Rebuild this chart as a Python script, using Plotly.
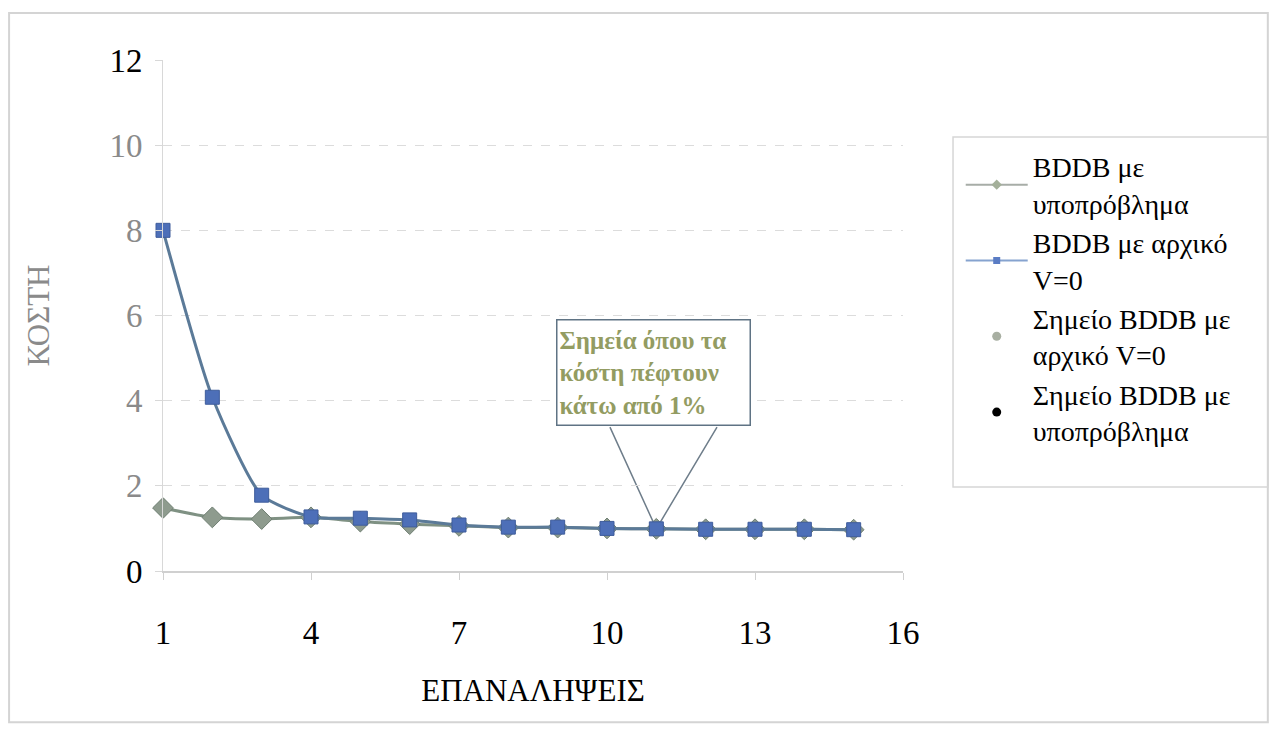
import plotly.graph_objects as go

# Iterations and costs per method
iterations = list(range(1, 16))
cost_subproblem = [1.48, 1.26, 1.22, 1.26, 1.16, 1.10, 1.06, 1.02, 1.02, 1.00, 0.99, 0.98, 0.98, 0.98, 0.97]
cost_v0 = [8.00, 4.08, 1.78, 1.27, 1.24, 1.20, 1.08, 1.03, 1.03, 1.00, 0.99, 0.98, 0.98, 0.98, 0.97]

# Iteration where costs drop below 1%
point_iteration = 11
point_v0 = [cost_v0[point_iteration - 1]]
point_subproblem = [cost_subproblem[point_iteration - 1]]

y_ticks = [0, 2, 4, 6, 8, 10, 12]
x_ticks = [1, 4, 7, 10, 13, 16]

names = ["BDDB με<br>υποπρόβλημα", "BDDB με αρχικό<br>V=0",
         "Σημείο BDDB με<br>αρχικό V=0", "Σημείο BDDB με<br>υποπρόβλημα"]

FONT = "Liberation Serif"

fig = go.Figure()

# Marker-only series first so the line markers sit on top of them
fig.add_trace(go.Scatter(
    x=[point_iteration], y=point_v0, mode="markers", showlegend=False,
    marker=dict(color="#a3ab9d", size=10, symbol="circle"), cliponaxis=False,
))
fig.add_trace(go.Scatter(
    x=[point_iteration], y=point_subproblem, mode="markers", showlegend=False,
    marker=dict(color="#000000", size=10, symbol="circle"), cliponaxis=False,
))
fig.add_trace(go.Scatter(
    x=iterations, y=cost_subproblem, mode="lines+markers", showlegend=False,
    line=dict(color="#7f9183", width=3, shape="spline", smoothing=0.6),
    marker=dict(symbol="diamond", size=16, color="#8e9b8e",
                line=dict(color="#6f7f72", width=1)),
    cliponaxis=False,
))
fig.add_trace(go.Scatter(
    x=iterations, y=cost_v0, mode="lines+markers", showlegend=False,
    line=dict(color="#5b7a98", width=3, shape="spline", smoothing=0.6),
    marker=dict(symbol="square", size=14, color="#4d6fb8",
                line=dict(color="#3f5d9c", width=1)),
    cliponaxis=False,
))

# Legend keys with small symbols
legend_styles = [
    dict(mode="lines+markers", line=dict(color="#a7ada7", width=2),
         marker=dict(symbol="diamond", size=8, color="#a4b09a")),
    dict(mode="lines+markers", line=dict(color="#86a3cf", width=2),
         marker=dict(symbol="square", size=7, color="#5a7cc4")),
    dict(mode="markers", marker=dict(symbol="circle", size=9, color="#a8afa2")),
    dict(mode="markers", marker=dict(symbol="circle", size=9, color="#000000")),
]
for rank, (name, style) in enumerate(zip(names, legend_styles), start=1):
    fig.add_trace(go.Scatter(x=[None], y=[None], name=name, legendrank=rank,
                             hoverinfo="skip", **style))

# Dashed grid lines on an overlay axis (no line at the top edge)
fig.add_trace(go.Scatter(x=[None], y=[None], yaxis="y2", showlegend=False, hoverinfo="skip"))

y_ticktext = []
for v in y_ticks:
    if v in (0, 12):
        y_ticktext.append(str(v))
    else:
        y_ticktext.append(f"<span style='color:#8a8a8a'>{v}</span>")

fig.update_layout(
    width=1280, height=730,
    margin=dict(l=163, r=377, t=60, b=159),
    paper_bgcolor="white", plot_bgcolor="white",
    font=dict(family=FONT, color="#000000"),
    showlegend=True,
    legend=dict(
        x=1.078, y=0.84, xanchor="left", yanchor="top",
        font=dict(family=FONT, size=28, color="#000000"),
        bgcolor="rgba(0,0,0,0)", borderwidth=0,
        itemwidth=62, traceorder="normal",
    ),
    xaxis=dict(
        range=[1, 16], tickvals=x_ticks, ticktext=[str(v) for v in x_ticks],
        showgrid=False, zeroline=False,
        showline=True, linecolor="#d0d0d0", linewidth=2,
        ticks="outside", ticklen=7, tickcolor="#d0d0d0", tickwidth=1,
        tickfont=dict(family=FONT, size=33, color="#000000"),
        ticklabelstandoff=24,
        title=dict(text="ΕΠΑΝΑΛΗΨΕΙΣ", font=dict(family=FONT, size=31, color="#000000"), standoff=30),
    ),
    yaxis=dict(
        range=[0, 12], tickvals=y_ticks, ticktext=y_ticktext,
        showgrid=False, zeroline=False,
        showline=True, linecolor="#d8d8d8", linewidth=1,
        ticks="outside", ticklen=7, tickcolor="#d8d8d8", tickwidth=1,
        tickfont=dict(family=FONT, size=33, color="#000000"),
        ticklabelstandoff=6,
        title=dict(text="ΚΟΣΤΗ", font=dict(family=FONT, size=31, color="#8a8a8a"), standoff=50),
    ),
    yaxis2=dict(
        overlaying="y", matches="y", range=[0, 12], tickvals=[2, 4, 6, 8, 10],
        showticklabels=False, showgrid=True, gridcolor="#dcdcdc", griddash="dash",
        gridwidth=1, zeroline=False, showline=False, ticks="",
    ),
)

# Outer chart frame and legend box
fig.add_shape(type="rect", xref="paper", yref="paper",
              x0=-0.208, x1=1.493, y0=-0.296, y1=1.092,
              line=dict(color="#d4d4d4", width=2), layer="below")
fig.add_shape(type="rect", xref="paper", yref="paper",
              x0=1.0676, x1=1.4932, y0=0.1644, y1=0.8493,
              line=dict(color="#d6d6d6", width=1.5), layer="below")

# Callout: text box with two leader lines meeting at the marked point
box_left, box_right, box_bottom = 10.06, 12.23, 3.38
fig.add_shape(type="path", xref="x", yref="y",
              path=f"M {box_left},{box_bottom} L {point_iteration},{point_v0[0]} L {box_right},{box_bottom}",
              line=dict(color="#6e7d8a", width=1.5), layer="below")
fig.add_annotation(
    x=10.94, y=4.66, xref="x", yref="y", showarrow=False,
    xanchor="center", yanchor="middle", align="left",
    width=188, height=100,
    text="Σημεία όπου τα<br>κόστη πέφτουν<br>κάτω από 1%",
    font=dict(family=FONT, size=25, color="#939c62", weight="bold"),
    bgcolor="white", bordercolor="#5f7384", borderwidth=1.5, borderpad=2,
)

fig.write_html("out.html")
